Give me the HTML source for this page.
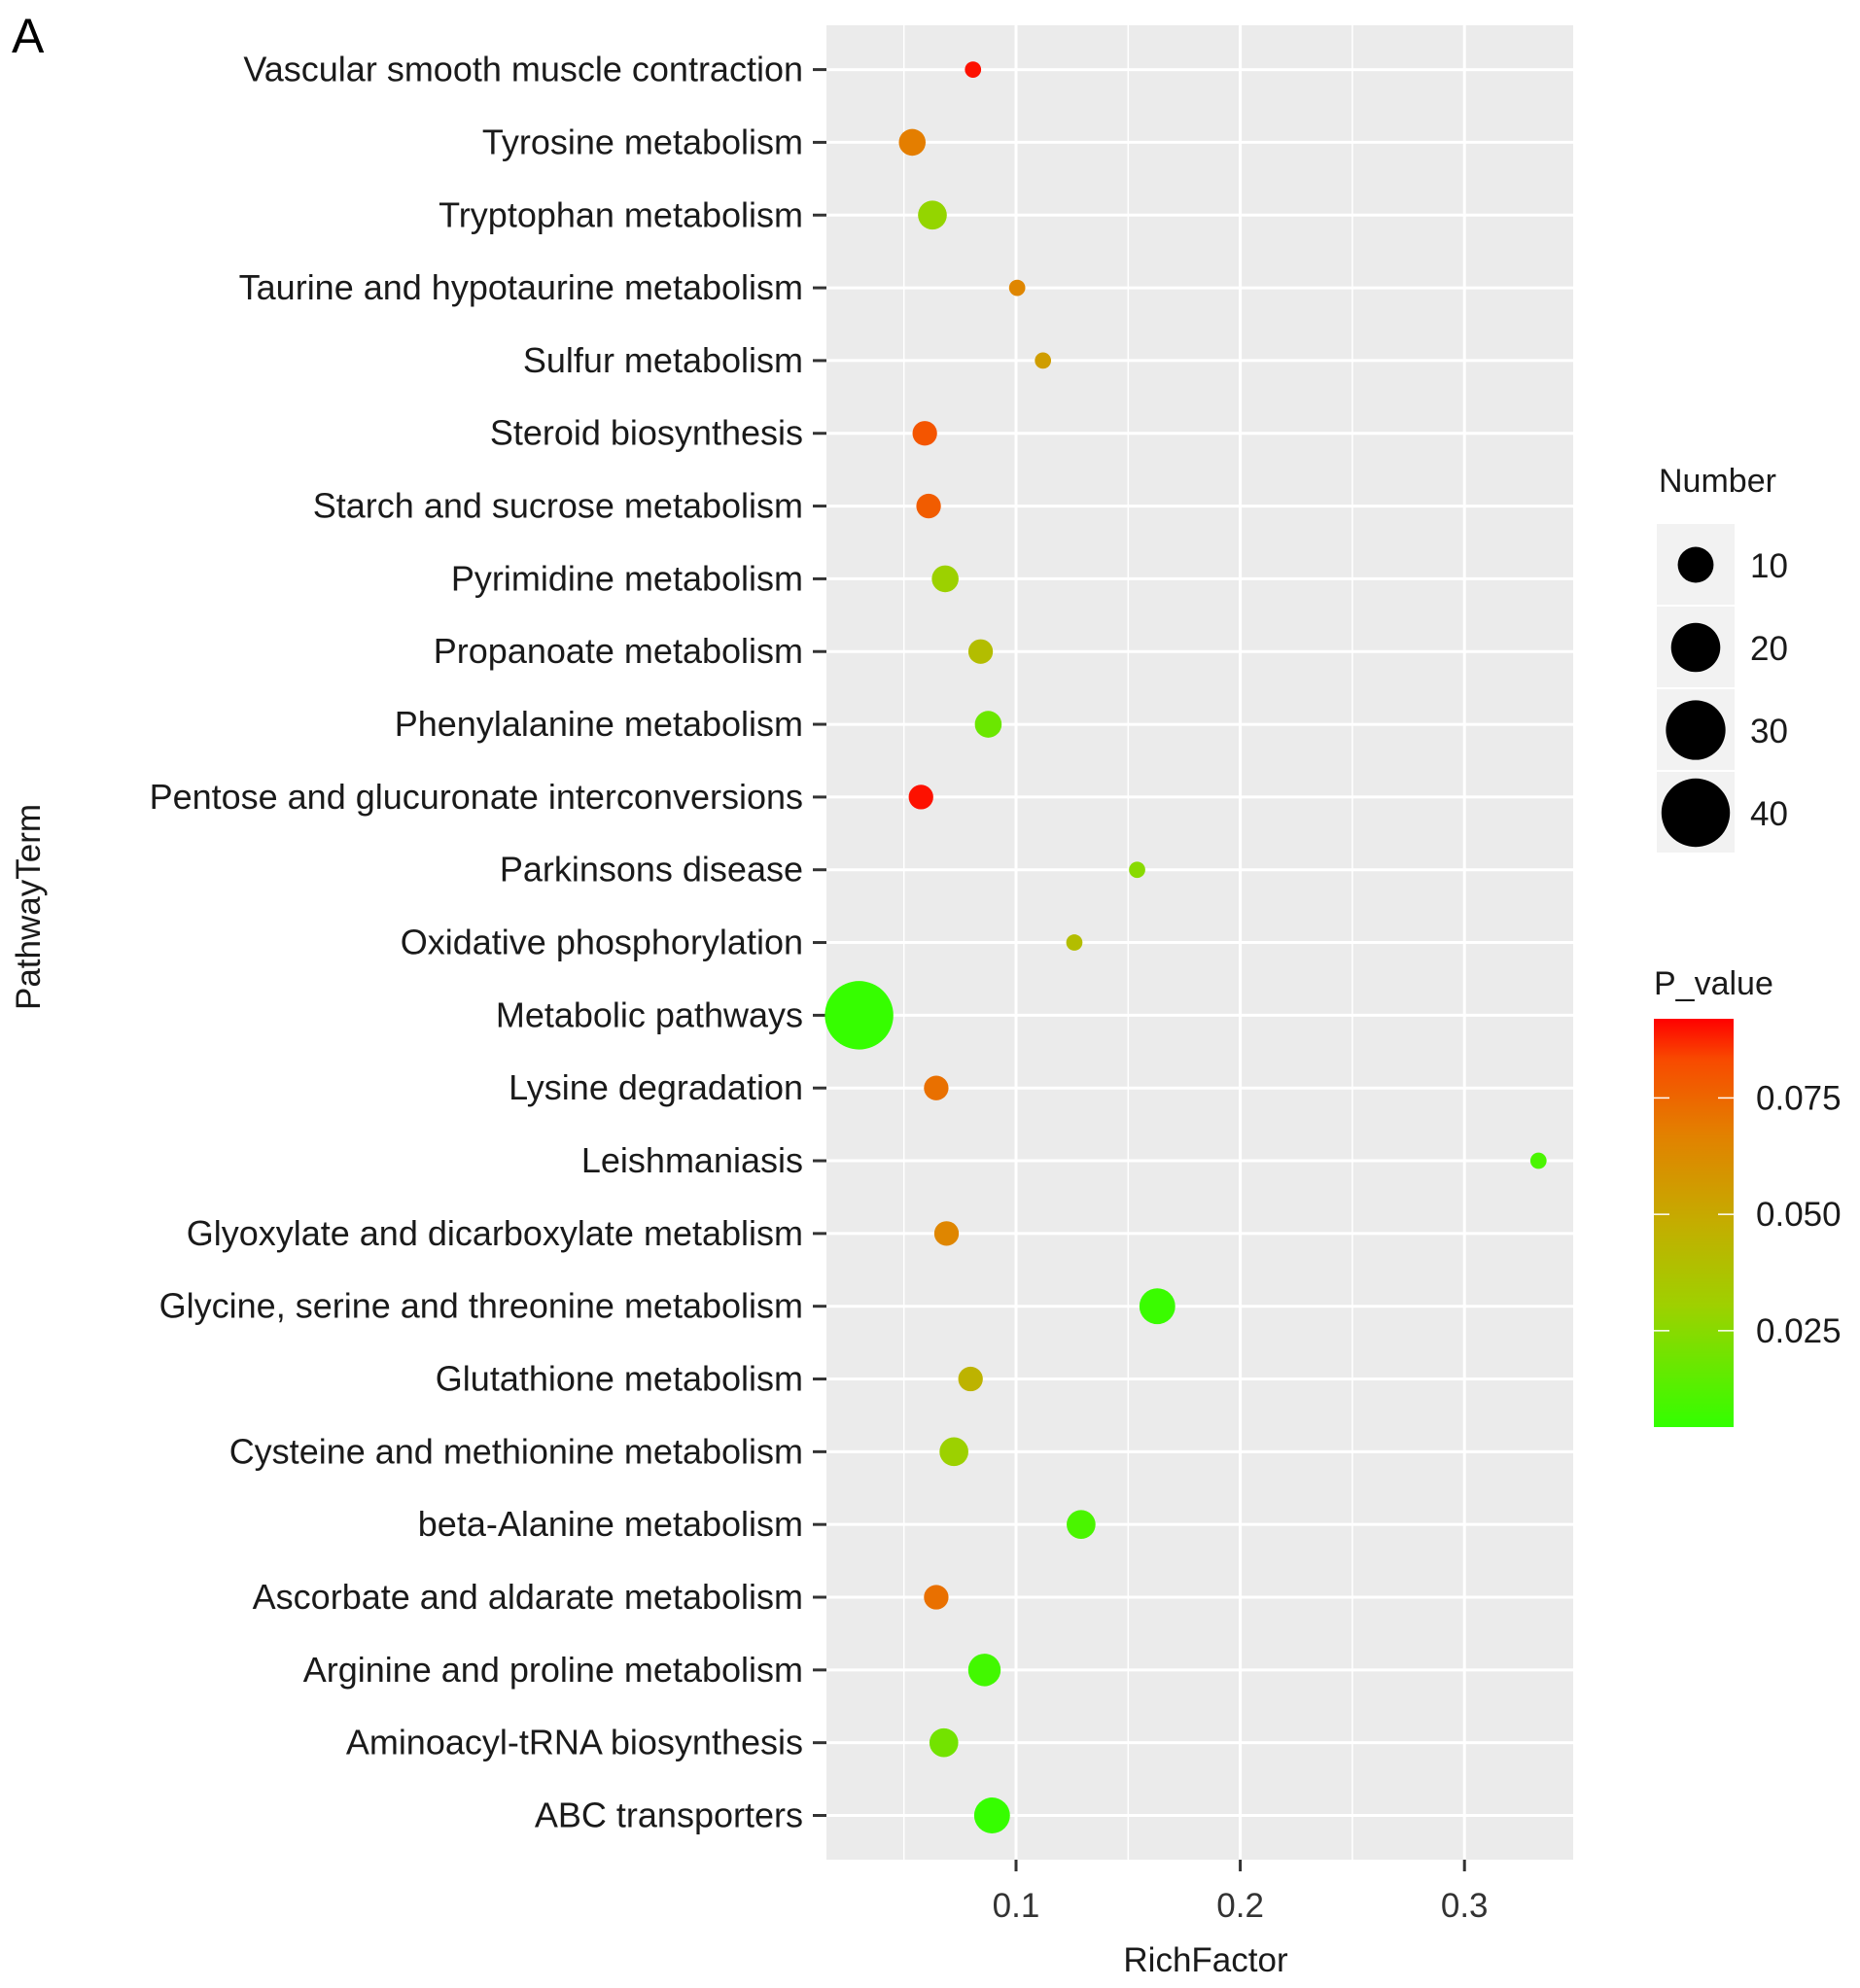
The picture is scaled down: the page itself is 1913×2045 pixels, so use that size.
<!DOCTYPE html>
<html><head><meta charset="utf-8"><style>
html,body{margin:0;padding:0;background:#fff;}
svg{display:block;font-family:"Liberation Sans",Arial,sans-serif;}
</style></head><body>
<svg id="chart" width="1913" height="2045" viewBox="0 0 1913 2045" xmlns="http://www.w3.org/2000/svg">
<defs>
<linearGradient id="pgrad" x1="0" y1="1" x2="0" y2="0">
<stop offset="0" stop-color="#33ff00"/>
<stop offset="0.3" stop-color="#9fd000"/>
<stop offset="0.5" stop-color="#c4ad00"/>
<stop offset="0.72" stop-color="#e38000"/>
<stop offset="0.9" stop-color="#f84a00"/>
<stop offset="1" stop-color="#ff0000"/>
</linearGradient>
</defs>
<text x="12" y="54" font-size="50" fill="#000">A</text>
<g id="plot"></g>
</svg>
<script>
const terms = ["Vascular smooth muscle contraction","Tyrosine metabolism","Tryptophan metabolism","Taurine and hypotaurine metabolism","Sulfur metabolism","Steroid biosynthesis","Starch and sucrose metabolism","Pyrimidine metabolism","Propanoate metabolism","Phenylalanine metabolism","Pentose and glucuronate interconversions","Parkinsons disease","Oxidative phosphorylation","Metabolic pathways","Lysine degradation","Leishmaniasis","Glyoxylate and dicarboxylate metablism","Glycine, serine and threonine metabolism","Glutathione metabolism","Cysteine and methionine metabolism","beta-Alanine metabolism","Ascorbate and aldarate metabolism","Arginine and proline metabolism","Aminoacyl-tRNA biosynthesis","ABC transporters"];
const richFactor = [0.0808,0.0537,0.0627,0.1005,0.112,0.0593,0.061,0.0684,0.0842,0.0876,0.0576,0.154,0.126,0.030,0.0644,0.333,0.069,0.163,0.0797,0.0723,0.129,0.0644,0.0859,0.0678,0.0893];
const numbers = [1,5,6,1,1,4,4,5,4,5,4,1,1,40,4,1,4,10,4,6,6,4,8,6,10];
const pValues = [0.09,0.068,0.028,0.065,0.055,0.08,0.078,0.03,0.04,0.018,0.09,0.025,0.04,0.005,0.072,0.01,0.065,0.006,0.045,0.03,0.01,0.072,0.008,0.02,0.005];
const xTicks = [0.1,0.2,0.3];
const xMinor = [0.05,0.15,0.25];
const sizeLegend = [10,20,30,40];
const pTicks = [0.075,0.050,0.025];

const NS="http://www.w3.org/2000/svg";
const g=document.getElementById('plot');
function el(t,a,p){const e=document.createElementNS(NS,t);for(const k in a)e.setAttribute(k,a[k]);(p||g).appendChild(e);return e;}
const PL=850,PR=1618,PT=26,PB=1913;
const xS=v=>1045+(v-0.1)*2306;
const yS=i=>71.6+i*(1867.5-71.6)/(terms.length-1);
const rS=n=>Math.sqrt(40+30*n);
const pMin=0.0043,pMax=0.092,cbT=1048,cbB=1468;
const pY=p=>cbB-(p-pMin)/(pMax-pMin)*(cbB-cbT);
const stops=[[0,[0x33,0xff,0]],[0.3,[0x9f,0xd0,0]],[0.5,[0xc4,0xad,0]],[0.72,[0xe3,0x80,0]],[0.9,[0xf8,0x4a,0]],[1,[0xff,0,0]]];
function col(p){let t=Math.max(0,Math.min(1,(p-pMin)/(pMax-pMin)));for(let i=1;i<stops.length;i++){if(t<=stops[i][0]){const a=stops[i-1],b=stops[i];const f=(t-a[0])/(b[0]-a[0]);const c=a[1].map((v,k)=>Math.round(v+(b[1][k]-v)*f));return `rgb(${c.join(',')})`;}}return 'rgb(255,0,0)';}

const bg=el('rect',{x:PL,y:PT,width:PR-PL,height:PB-PT,fill:'#ebebeb'});


xMinor.forEach(v=>{const l=el('line',{x1:xS(v),x2:xS(v),y1:PT,y2:PB,stroke:'#fff','stroke-width':1.5});

});
xTicks.forEach(v=>{const l=el('line',{x1:xS(v),x2:xS(v),y1:PT,y2:PB,stroke:'#fff','stroke-width':3});


const tk=el('line',{x1:xS(v),x2:xS(v),y1:PB,y2:PB+12,stroke:'#333','stroke-width':3});


const t=el('text',{x:xS(v),y:1972,'font-size':35,'text-anchor':'middle',fill:'#333'});t.textContent=String(v);

});
terms.forEach((s,i)=>{const y=yS(i);
const l=el('line',{x1:PL,x2:PR,y1:y,y2:y,stroke:'#fff','stroke-width':3});


const tk=el('line',{x1:836,x2:PL,y1:y,y2:y,stroke:'#333','stroke-width':3});


const t=el('text',{x:826,y:y+12,'font-size':36,'text-anchor':'end',fill:'#1a1a1a'});t.textContent=s;

});
terms.forEach((s,i)=>{const c=el('circle',{cx:xS(richFactor[i]),cy:yS(i),r:rS(numbers[i]),fill:col(pValues[i])});

});
let t=el('text',{x:1240,y:2028,'font-size':35,'text-anchor':'middle',fill:'#1a1a1a'});t.textContent='RichFactor';


t=el('text',{x:0,y:0,'font-size':35,'text-anchor':'middle',fill:'#1a1a1a',transform:'translate(41,933) rotate(-90)'});t.textContent='PathwayTerm';


t=el('text',{x:1706,y:506,'font-size':34,fill:'#1a1a1a'});t.textContent='Number';


sizeLegend.forEach((n,i)=>{const cy=581+i*85;
const b=el('rect',{x:1704,y:cy-42,width:80,height:83,fill:'#f2f2f2'});


const c=el('circle',{cx:1744,cy:cy,r:rS(n),fill:'#000'});


const tt=el('text',{x:1800,y:cy+13,'font-size':35,fill:'#1a1a1a'});tt.textContent=String(n);

});
t=el('text',{x:1701,y:1023,'font-size':34,fill:'#1a1a1a'});t.textContent='P_value';


const cb=el('rect',{x:1701,y:cbT,width:82,height:cbB-cbT,fill:'url(#pgrad)'});


pTicks.forEach(p=>{const y=pY(p);
el('line',{x1:1701,x2:1717,y1:y,y2:y,stroke:'#fff','stroke-width':1.5});
el('line',{x1:1767,x2:1783,y1:y,y2:y,stroke:'#fff','stroke-width':1.5});
const tt=el('text',{x:1806,y:y+12,'font-size':35,fill:'#1a1a1a'});tt.textContent=p.toFixed(3);

});
</script>
</body></html>
